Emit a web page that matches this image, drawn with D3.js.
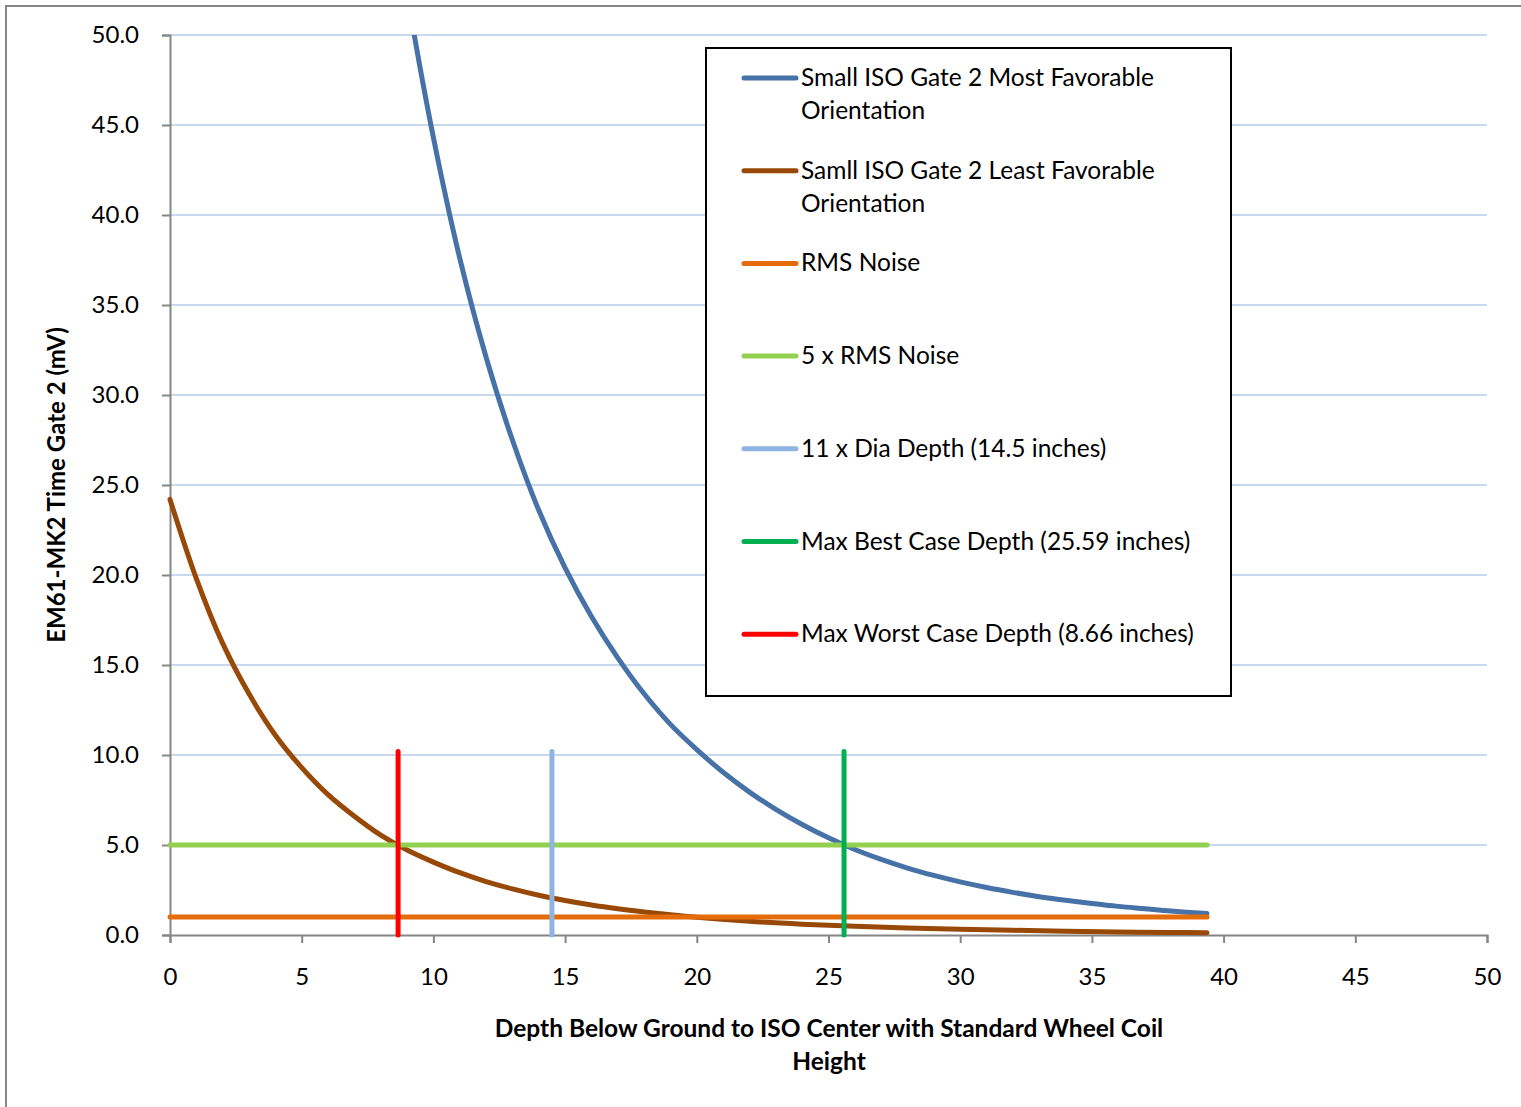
<!DOCTYPE html>
<html>
<head>
<meta charset="utf-8">
<script src="https://cdn.jsdelivr.net/npm/d3@7"></script>
<style>
  body { margin: 0; background: #fff; }
  text { font-family: Lato, "Open Sans", sans-serif; fill: #000; }
</style>
</head>
<body>
<svg id="chart" width="1521" height="1107"></svg>
<script>
// depth (inches) and signal (mV)
var depthMost = [8, 9, 10, 11, 12, 13, 14, 15, 16, 17, 18, 19, 20, 21, 22, 23, 24, 25, 26, 27, 28, 29, 30, 31, 32, 33, 34, 35, 36, 37, 38, 39.37];
var mostFavorable = [61.5, 52.3, 44.3, 37.6, 32.1, 27.5, 23.6, 20.4, 17.7, 15.4, 13.4, 11.7, 10.3, 9.04, 7.94, 6.98, 6.14, 5.4, 4.75, 4.2, 3.72, 3.31, 2.95, 2.64, 2.37, 2.13, 1.93, 1.75, 1.59, 1.46, 1.33, 1.19];

var depthLeast = [0, 1, 2, 3, 4, 5, 6, 7, 8, 9, 10, 11, 12, 13, 14, 15, 16, 17, 18, 19, 20, 22, 24, 26, 28, 30, 32, 34, 36, 38, 39.37];
var leastFavorable = [24.2, 19.8, 16.2, 13.4, 11.1, 9.3, 7.8, 6.6, 5.55, 4.72, 4.05, 3.46, 2.97, 2.56, 2.21, 1.92, 1.67, 1.46, 1.28, 1.12, 0.98, 0.76, 0.6, 0.48, 0.39, 0.32, 0.26, 0.21, 0.17, 0.14, 0.12];

var noiseDepths = [0, 39.37];
var rmsNoise = 1.0;
var fiveRmsNoise = 5.0;

var markerLevels = [0, 10.2];
var diaDepth = 14.5;
var bestCaseDepth = 25.59;
var worstCaseDepth = 8.66;

var xTicks = [0, 5, 10, 15, 20, 25, 30, 35, 40, 45, 50];
var yTicks = [0, 5, 10, 15, 20, 25, 30, 35, 40, 45, 50];

var seriesNames = [
    ["Small ISO Gate 2 Most Favorable", "Orientation"],
    ["Samll ISO Gate 2 Least Favorable", "Orientation"],
    ["RMS Noise"],
    ["5 x RMS Noise"],
    ["11 x Dia Depth (14.5 inches)"],
    ["Max Best Case Depth (25.59 inches)"],
    ["Max Worst Case Depth (8.66 inches)"]
];
var seriesColors = ["#4672A8", "#984807", "#E46C0A", "#92D050", "#8DB4E2", "#00B050", "#FF0000"];

var svg = d3.select("#chart");

// outer chart frame
svg.append("rect")
    .attr("x", 6).attr("y", 6)
    .attr("width", 1540).attr("height", 1120)
    .style("fill", "#fff")
    .style("stroke", "#868686")
    .style("stroke-width", 2);

var plotLeft = 170, plotRight = 1487, plotTop = 35, plotBottom = 935;

var x = d3.scaleLinear().domain([0, 50]).range([plotLeft, plotRight]);
var y = d3.scaleLinear().domain([0, 50]).range([plotBottom, plotTop]);

// gridlines
svg.append("g")
    .selectAll("line")
    .data(yTicks.filter(function (d) { return d > 0; }))
    .enter().append("line")
    .attr("x1", plotLeft).attr("x2", plotRight)
    .attr("y1", function (d) { return y(d); })
    .attr("y2", function (d) { return y(d); })
    .style("stroke", "#C8D9EF")
    .style("stroke-width", 2);

// axes
var yAxis = svg.append("g")
    .attr("transform", "translate(" + plotLeft + ",0)")
    .call(d3.axisLeft(y).tickValues(yTicks).tickFormat(d3.format(".1f")).tickSize(8).tickPadding(23));
var xAxis = svg.append("g")
    .attr("transform", "translate(0," + plotBottom + ")")
    .call(d3.axisBottom(x).tickValues(xTicks).tickFormat(d3.format("d")).tickSize(8).tickPadding(25));

[yAxis, xAxis].forEach(function (a) {
    a.select(".domain").style("stroke", "#868686").style("stroke-width", 2);
    a.selectAll(".tick line").style("stroke", "#868686").style("stroke-width", 2);
    a.selectAll(".tick text").style("font-family", "Lato, sans-serif").style("font-size", "24px").style("fill", "#000");
});

svg.append("clipPath").attr("id", "plotClip")
    .append("rect")
    .attr("x", plotLeft - 10).attr("y", plotTop)
    .attr("width", plotRight - plotLeft + 20).attr("height", plotBottom - plotTop + 10);

var plot = svg.append("g").attr("clip-path", "url(#plotClip)");

function drawSeries(points, color, curve) {
    var l = d3.line()
        .x(function (d) { return x(d[0]); })
        .y(function (d) { return y(d[1]); });
    if (curve) l.curve(d3.curveCatmullRom.alpha(0.5));
    plot.append("path")
        .attr("d", l(points))
        .style("fill", "none")
        .style("stroke", color)
        .style("stroke-width", 5)
        .style("stroke-linecap", "round")
        .style("stroke-linejoin", "round");
}

drawSeries(d3.zip(depthMost, mostFavorable), seriesColors[0], true);
drawSeries(d3.zip(depthLeast, leastFavorable), seriesColors[1], true);
drawSeries(noiseDepths.map(function (d) { return [d, rmsNoise]; }), seriesColors[2]);
drawSeries(noiseDepths.map(function (d) { return [d, fiveRmsNoise]; }), seriesColors[3]);
drawSeries(markerLevels.map(function (v) { return [diaDepth, v]; }), seriesColors[4]);
drawSeries(markerLevels.map(function (v) { return [bestCaseDepth, v]; }), seriesColors[5]);
drawSeries(markerLevels.map(function (v) { return [worstCaseDepth, v]; }), seriesColors[6]);

// axis titles
var xTitle = svg.append("text")
    .attr("x", 829).attr("y", 1037)
    .attr("text-anchor", "middle")
    .style("font-size", "24.5px").style("font-weight", "bold");
xTitle.append("tspan").attr("x", 829).text("Depth Below Ground to ISO Center with Standard Wheel Coil");
xTitle.append("tspan").attr("x", 829).attr("dy", 33).text("Height");

svg.append("text")
    .attr("transform", "translate(65,485) rotate(-90)")
    .attr("text-anchor", "middle")
    .style("font-size", "24px").style("font-weight", "bold")
    .text("EM61-MK2 Time Gate 2 (mV)");

// legend
var legend = svg.append("g");
legend.append("rect")
    .attr("x", 706).attr("y", 48)
    .attr("width", 525).attr("height", 648)
    .style("fill", "#fff")
    .style("stroke", "#000")
    .style("stroke-width", 2);

var entry = legend.selectAll("g.entry")
    .data(seriesNames)
    .enter().append("g")
    .attr("class", "entry")
    .attr("transform", function (d, i) { return "translate(0," + (78 + i * 92.7) + ")"; });

entry.append("line")
    .attr("x1", 744).attr("x2", 796)
    .attr("y1", 0).attr("y2", 0)
    .style("stroke", function (d, i) { return seriesColors[i]; })
    .style("stroke-width", 5)
    .style("stroke-linecap", "round");

entry.each(function (d) {
    var t = d3.select(this).append("text")
        .attr("x", 801).attr("y", 8)
        .style("font-size", "24.5px");
    d.forEach(function (s, k) {
        t.append("tspan").attr("x", 801).attr("dy", k === 0 ? 0 : 33).text(s);
    });
});
</script>
</body>
</html>
